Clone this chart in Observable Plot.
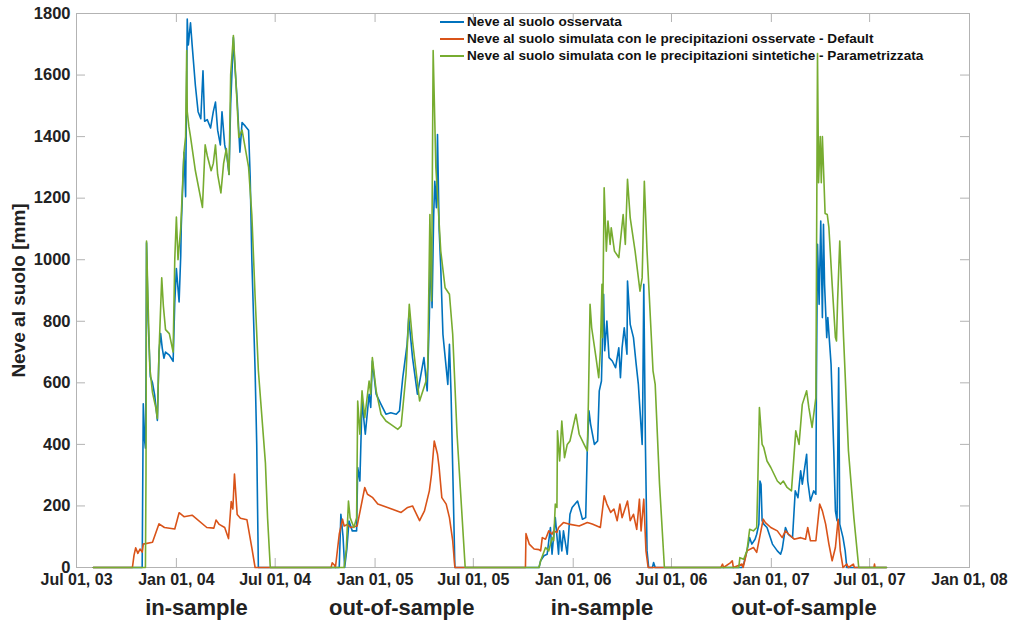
<!DOCTYPE html>
<html><head><meta charset="utf-8">
<script src="https://cdn.jsdelivr.net/npm/d3@7"></script>
<script src="https://cdn.jsdelivr.net/npm/@observablehq/plot@0.6"></script>
<style>
body{margin:0;background:#fff;}
#wrap{position:relative;width:1014px;height:621px;font-family:"Liberation Sans",Arial,Helvetica,sans-serif;}
#legend{position:absolute;left:440px;top:13px;font-size:13.6px;font-weight:bold;color:#111;}
.row{height:17px;display:flex;align-items:center;white-space:nowrap;}
.sw{width:24px;height:2px;margin-right:3px;}
</style></head><body><div id="wrap"></div>
<script>
const seriesNames = [
  "Neve al suolo osservata",
  "Neve al suolo simulata con le precipitazioni osservate - Default",
  "Neve al suolo simulata con le precipitazioni sintetiche - Parametrizzata"
];
const seriesColors = ["#0072BD", "#D95319", "#77AC30"];
const yLabel = "Neve al suolo [mm]";
const xDomain = ["2003-07-01", "2008-01-01"];
const xTickDates = ["2003-07-01","2004-01-01","2004-07-01","2005-01-01","2005-07-01","2006-01-01","2006-07-01","2007-01-01","2007-07-01","2008-01-01"];
const yTicks = [0,200,400,600,800,1000,1200,1400,1600,1800];
const periodLabels = ["in-sample","out-of-sample","in-sample","out-of-sample"];
const periodDates = ["2004-02-07","2005-02-19","2006-02-23","2007-03-02"];

const observed = [
["2003-08-01",0],["2003-10-30",0],["2003-11-01",532],["2003-11-03",420],["2003-11-05",388],["2003-11-06",600],["2003-11-07",1055],
["2003-11-10",800],["2003-11-14",620],["2003-11-18",600],["2003-11-22",560],["2003-11-27",478],["2003-11-30",700],["2003-12-03",760],
["2003-12-06",712],["2003-12-09",680],["2003-12-12",700],["2003-12-19",690],["2003-12-26",670],["2003-12-29",860],["2004-01-01",971],
["2004-01-06",863],["2004-01-09",1013],["2004-01-10",1110],["2004-01-15",1349],["2004-01-18",1205],["2004-01-21",1782],["2004-01-23",1698],
["2004-01-27",1770],["2004-01-30",1698],["2004-02-05",1566],["2004-02-10",1481],["2004-02-15",1458],["2004-02-19",1614],["2004-02-22",1450],
["2004-02-27",1455],["2004-03-04",1428],["2004-03-09",1481],["2004-03-13",1512],["2004-03-17",1421],["2004-03-22",1373],["2004-03-25",1481],
["2004-03-30",1373],["2004-04-03",1337],["2004-04-07",1277],["2004-04-10",1506],["2004-04-15",1722],["2004-04-17",1650],["2004-04-22",1518],
["2004-04-27",1349],["2004-05-01",1446],["2004-05-07",1434],["2004-05-13",1421],["2004-05-16",1265],["2004-05-19",1000],["2004-05-25",640],
["2004-05-28",400],["2004-05-31",0],
["2004-10-27",0],["2004-10-30",173],["2004-11-03",100],["2004-11-06",0],["2004-11-10",60],["2004-11-14",151],["2004-11-20",119],
["2004-11-28",119],["2004-11-30",325],["2004-12-04",281],["2004-12-08",541],["2004-12-14",433],["2004-12-21",563],["2004-12-24",520],
["2004-12-27",671],["2005-01-03",563],["2005-01-12",530],["2005-01-21",498],["2005-01-30",503],["2005-02-09",498],["2005-02-15",509],
["2005-02-21",617],["2005-03-01",725],["2005-03-04",812],["2005-03-11",682],["2005-03-20",563],["2005-04-01",682],["2005-04-07",574],
["2005-04-11",812],["2005-04-13",1028],["2005-04-16",844],["2005-04-19",1147],["2005-04-21",1255],["2005-04-24",1169],["2005-04-26",1407],
["2005-04-29",1100],["2005-05-02",974],["2005-05-06",758],["2005-05-09",703],["2005-05-15",595],["2005-05-18",725],["2005-05-21",563],
["2005-05-24",325],["2005-05-28",0],
["2005-10-30",0],["2005-11-02",22],["2005-11-08",38],["2005-11-14",43],["2005-11-20",130],["2005-11-23",43],["2005-11-29",162],
["2005-12-05",43],["2005-12-07",119],["2005-12-11",54],["2005-12-14",119],["2005-12-21",43],["2005-12-26",173],["2005-12-30",195],
["2006-01-09",216],["2006-01-14",184],["2006-01-18",157],["2006-01-24",162],["2006-01-27",390],["2006-01-30",509],["2006-02-02",466],
["2006-02-09",400],["2006-02-15",411],["2006-02-18",574],["2006-02-22",606],["2006-02-26",888],["2006-02-28",704],["2006-03-04",801],
["2006-03-08",682],["2006-03-14",671],["2006-03-20",649],["2006-03-26",714],["2006-03-29",617],["2006-04-01",714],["2006-04-05",779],
["2006-04-10",693],["2006-04-11",931],["2006-04-16",790],["2006-04-22",747],["2006-04-27",660],["2006-05-01",595],["2006-05-08",400],
["2006-05-09",520],["2006-05-11",920],["2006-05-14",400],["2006-05-17",54],["2006-05-20",0],["2006-05-27",0],["2006-05-29",16],["2006-06-01",0],
["2006-11-08",0],["2006-11-11",11],["2006-11-17",54],["2006-11-22",97],["2006-11-26",76],["2006-12-02",92],["2006-12-05",108],
["2006-12-09",141],["2006-12-11",281],["2006-12-13",270],["2006-12-15",152],["2006-12-18",141],["2006-12-24",130],["2007-01-03",76],
["2007-01-12",54],["2007-01-18",43],["2007-01-21",60],["2007-01-27",130],["2007-02-01",108],["2007-02-09",97],["2007-02-14",249],
["2007-02-19",227],["2007-02-24",314],["2007-02-27",271],["2007-03-07",368],["2007-03-09",281],["2007-03-14",216],["2007-03-20",249],
["2007-03-24",238],["2007-03-25",595],["2007-03-27",1050],["2007-03-30",855],["2007-04-02",1126],["2007-04-05",812],["2007-04-07",1115],
["2007-04-09",920],["2007-04-13",747],["2007-04-15",812],["2007-04-21",660],["2007-04-26",379],["2007-04-29",184],["2007-05-02",152],
["2007-05-05",649],["2007-05-07",141],["2007-05-13",97],["2007-05-17",54],["2007-05-20",0],["2007-08-01",0]
];

const simDefault = [
["2003-08-01",0],["2003-10-12",0],["2003-10-15",40],["2003-10-18",64],["2003-10-22",46],["2003-10-26",60],["2003-10-30",50],
["2003-11-01",76],["2003-11-18",82],["2003-11-30",142],["2003-12-10",130],["2003-12-29",125],["2004-01-06",178],["2004-01-15",165],
["2004-01-30",170],["2004-02-26",130],["2004-03-10",128],["2004-03-14",154],["2004-03-20",140],["2004-03-30",130],["2004-04-06",94],
["2004-04-11",214],["2004-04-14",190],["2004-04-17",304],["2004-04-22",172],["2004-04-28",160],["2004-05-10",155],["2004-05-19",64],
["2004-05-25",0],
["2004-10-12",0],["2004-10-14",15],["2004-10-18",8],["2004-10-20",0],["2004-10-27",108],["2004-11-02",157],["2004-11-05",135],
["2004-11-11",140],["2004-11-17",130],["2004-11-29",135],["2004-12-13",260],["2004-12-18",238],["2004-12-27",228],["2005-01-06",206],
["2005-01-24",195],["2005-02-18",179],["2005-03-02",195],["2005-03-11",200],["2005-03-24",152],["2005-04-02",184],["2005-04-11",249],
["2005-04-15",303],["2005-04-20",411],["2005-04-26",368],["2005-04-29",325],["2005-05-04",227],["2005-05-12",206],["2005-05-18",162],
["2005-05-24",87],["2005-05-28",0],
["2005-10-05",0],["2005-10-06",110],["2005-10-12",76],["2005-10-21",60],["2005-10-30",58],["2005-11-02",54],["2005-11-05",97],
["2005-11-11",92],["2005-11-17",119],["2005-11-23",108],["2005-11-26",119],["2005-12-02",114],["2005-12-05",130],["2005-12-14",146],
["2005-12-24",141],["2006-01-12",135],["2006-01-27",146],["2006-02-05",141],["2006-02-20",130],["2006-02-27",233],["2006-03-04",206],
["2006-03-11",179],["2006-03-17",190],["2006-03-23",152],["2006-03-28",206],["2006-04-01",162],["2006-04-11",216],["2006-04-16",152],
["2006-04-22",173],["2006-04-28",124],["2006-05-03",222],["2006-05-06",119],["2006-05-11",222],["2006-05-15",54],["2006-05-19",0],
["2006-09-30",0],["2006-10-03",11],["2006-10-05",0],["2006-10-18",16],["2006-10-21",22],["2006-10-23",0],["2006-11-08",11],
["2006-11-10",0],["2006-11-14",30],["2006-11-17",54],["2006-11-29",65],["2006-12-05",49],["2006-12-17",157],["2006-12-21",146],
["2006-12-31",130],["2007-01-12",119],["2007-01-21",97],["2007-01-27",119],["2007-02-02",108],["2007-02-12",92],["2007-02-24",97],
["2007-03-05",92],["2007-03-09",130],["2007-03-14",87],["2007-03-24",87],["2007-03-31",206],["2007-04-05",184],["2007-04-11",141],
["2007-04-17",76],["2007-04-23",22],["2007-04-29",65],["2007-05-04",157],["2007-05-08",54],["2007-05-13",0],["2007-05-20",11],
["2007-05-23",0],["2007-06-01",11],["2007-06-03",0],["2007-07-09",0],["2007-07-10",11],["2007-07-11",0],["2007-08-01",0]
];

const simParam = [
["2003-08-01",0],["2003-11-05",0],["2003-11-06",300],["2003-11-07",1061],["2003-11-10",850],["2003-11-13",650],["2003-11-18",568],
["2003-11-24",520],["2003-11-27",484],["2003-11-30",700],["2003-12-05",941],["2003-12-08",850],["2003-12-12",773],["2003-12-19",760],
["2003-12-26",700],["2003-12-29",1000],["2004-01-01",1139],["2004-01-04",1000],["2004-01-09",1103],["2004-01-15",1349],["2004-01-18",1400],
["2004-01-20",1680],["2004-01-21",1481],["2004-01-24",1433],["2004-01-27",1400],["2004-02-05",1289],["2004-02-18",1170],["2004-02-23",1373],
["2004-02-27",1337],["2004-03-05",1289],["2004-03-09",1313],["2004-03-13",1373],["2004-03-17",1277],["2004-03-23",1217],["2004-03-28",1313],
["2004-04-02",1361],["2004-04-07",1277],["2004-04-10",1602],["2004-04-15",1728],["2004-04-19",1602],["2004-04-25",1397],["2004-05-01",1421],
["2004-05-13",1301],["2004-05-19",1145],["2004-05-25",881],["2004-05-31",640],["2004-06-13",340],["2004-06-17",160],["2004-06-22",0],
["2004-11-05",0],["2004-11-09",60],["2004-11-13",216],["2004-11-16",162],["2004-11-23",130],["2004-11-28",162],["2004-11-30",541],
["2004-12-04",433],["2004-12-08",574],["2004-12-13",487],["2004-12-21",606],["2004-12-24",563],["2004-12-27",682],["2005-01-03",574],
["2005-01-12",498],["2005-01-21",476],["2005-01-30",465],["2005-02-12",449],["2005-02-18",460],["2005-02-27",628],["2005-03-05",855],
["2005-03-11",736],["2005-03-24",541],["2005-04-05",606],["2005-04-08",650],["2005-04-12",1147],["2005-04-15",866],["2005-04-18",1680],
["2005-04-23",1299],["2005-04-26",1212],["2005-05-02",1028],["2005-05-10",909],["2005-05-18",888],["2005-05-24",758],["2005-06-01",433],
["2005-06-16",0],
["2005-10-30",0],["2005-11-02",22],["2005-11-11",65],["2005-11-17",54],["2005-11-23",97],["2005-11-26",87],["2005-11-29",206],
["2005-12-02",195],["2005-12-03",444],["2005-12-07",346],["2005-12-11",476],["2005-12-16",357],["2005-12-21",400],["2005-12-26",411],
["2006-01-06",498],["2006-01-12",433],["2006-01-21",400],["2006-01-27",379],["2006-01-29",541],["2006-02-01",855],["2006-02-04",779],
["2006-02-12",682],["2006-02-17",617],["2006-02-20",704],["2006-02-23",920],["2006-02-24",747],["2006-02-27",1234],["2006-03-03",1028],
["2006-03-06",1126],["2006-03-10",1050],["2006-03-12",1104],["2006-03-18",1028],["2006-03-26",1007],["2006-03-29",1061],["2006-04-03",1147],
["2006-04-07",1050],["2006-04-11",1261],["2006-04-16",1136],["2006-04-25",1028],["2006-05-04",898],["2006-05-08",941],["2006-05-12",1255],
["2006-05-17",1028],["2006-05-28",639],["2006-06-01",595],["2006-06-09",271],["2006-06-18",0],
["2006-11-02",0],["2006-11-04",32],["2006-11-11",27],["2006-11-17",54],["2006-11-22",124],["2006-11-29",119],["2006-12-05",130],
["2006-12-07",271],["2006-12-10",520],["2006-12-15",400],["2006-12-18",390],["2006-12-24",346],["2006-12-31",325],["2007-01-12",281],
["2007-01-18",271],["2007-01-23",281],["2007-01-30",260],["2007-02-07",249],["2007-02-15",444],["2007-02-21",400],["2007-02-27",530],
["2007-03-07",574],["2007-03-11",520],["2007-03-17",455],["2007-03-24",552],["2007-03-27",1670],["2007-03-29",1250],["2007-04-01",1400],
["2007-04-03",1250],["2007-04-05",1400],["2007-04-10",1150],["2007-04-14",1147],["2007-04-17",1104],["2007-04-23",920],["2007-04-29",747],
["2007-05-01",736],["2007-05-03",866],["2007-05-07",1061],["2007-05-14",747],["2007-05-23",379],["2007-06-02",162],["2007-06-11",0],
["2007-08-01",0]
];

const parse = d3.utcParse("%Y-%m-%d");
const rows = [];
[observed, simDefault, simParam].forEach((s, i) =>
  s.forEach(([d, v]) => rows.push({date: parse(d), value: v, series: seriesNames[i]})));
const xT = xTickDates.map(parse);
const periods = periodLabels.map((t, i) => ({text: t, date: parse(periodDates[i])}));

const W = 1014, H = 621, mL = 76, mR = 45, mT = 13, mB = 54;
const pw = W - mL - mR, ph = H - mT - mB;
const axisGray = "#b3b3b3";

const chart = Plot.plot({
  width: W, height: H,
  marginLeft: mL, marginRight: mR, marginTop: mT, marginBottom: mB,
  style: {fontFamily: '"Liberation Sans", Arial, Helvetica, sans-serif', fontWeight: "bold", color: "#222", background: "#fff", overflow: "visible"},
  x: {type: "utc", domain: xDomain.map(parse)},
  y: {domain: [0, 1800]},
  color: {domain: seriesNames, range: seriesColors},
  marks: [
    Plot.frame({stroke: axisGray}),
    Plot.tickX(xT, {x: d => d, stroke: axisGray, insetTop: ph - 9}),
    Plot.tickX(xT, {x: d => d, stroke: axisGray, insetBottom: ph - 9}),
    Plot.tickY(yTicks, {y: d => d, stroke: axisGray, insetRight: pw - 9}),
    Plot.tickY(yTicks, {y: d => d, stroke: axisGray, insetLeft: pw - 9}),
    Plot.axisX(xT, {tickSize: 0, tickPadding: 6, tickFormat: d3.utcFormat("%b %d, %y"), fontSize: 16, label: null}),
    Plot.axisY(yTicks, {tickSize: 0, tickPadding: 6, tickFormat: d3.format("d"), fontSize: 16.5, label: null}),
    Plot.text([yLabel], {frameAnchor: "left", textAnchor: "middle", lineAnchor: "middle", dx: -58, rotate: -90, fontSize: 19, text: d => d}),
    Plot.lineY(rows, {x: "date", y: "value", z: "series", stroke: "series", strokeWidth: 1.6}),
    Plot.text(periods, {x: "date", y: () => 0, dy: 40, fontSize: 22, text: "text"})
  ]
});

const wrap = document.getElementById("wrap");
wrap.appendChild(chart);
const legend = document.createElement("div");
legend.id = "legend";
seriesNames.forEach((n, i) => {
  const r = document.createElement("div");
  r.className = "row";
  const sw = document.createElement("span");
  sw.className = "sw";
  sw.style.background = seriesColors[i];
  const t = document.createElement("span");
  t.textContent = n;
  r.appendChild(sw); r.appendChild(t);
  legend.appendChild(r);
});
wrap.appendChild(legend);
</script>
</body></html>
